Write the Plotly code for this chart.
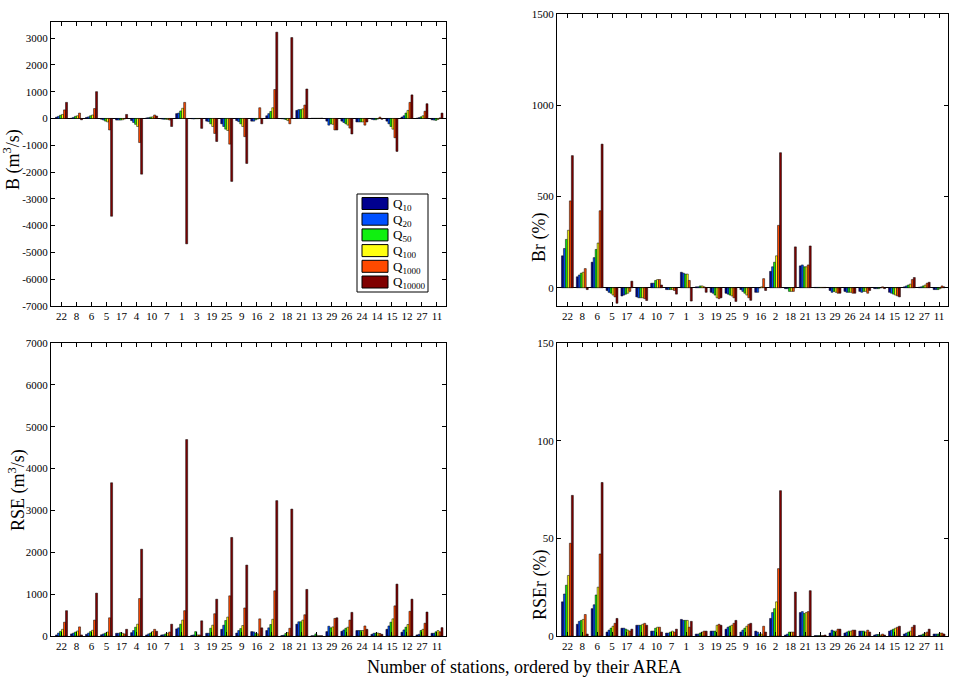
import plotly.graph_objects as go

stations = ["22", "8", "6", "5", "17", "4", "10", "7", "1", "3", "19", "25", "9",
            "16", "2", "18", "21", "13", "29", "26", "24", "14", "15", "12", "27", "11"]
series_names = ["Q<sub>10</sub>", "Q<sub>20</sub>", "Q<sub>50</sub>",
                "Q<sub>100</sub>", "Q<sub>1000</sub>", "Q<sub>10000</sub>"]
colors = ["#00008F", "#0050FF", "#10F010", "#FFFF10", "#FF4A00", "#800000"]

# B (m3/s)
B_Q10 = [50, 10, 40, -30, -60, -80, 20, -20, 180, -10, -100, -200, -80, -100, 100, -10, 300, 5, -100, -100, -130, -30, -100, 50, 10, -50]
B_Q20 = [80, 40, 60, -60, -60, -150, 30, -30, 200, -20, -120, -300, -120, -100, 180, -20, 330, 5, -250, -150, -130, -50, -200, 100, 30, -60]
B_Q50 = [120, 80, 100, -100, -60, -220, 50, -30, 280, -10, -200, -400, -200, -50, 260, -40, 330, 5, -200, -200, -130, -50, -300, 200, 60, -70]
B_Q100 = [150, 100, 130, -130, -50, -300, 60, -40, 380, -10, -300, -450, -300, -20, 400, -80, 360, 5, -220, -250, -130, -20, -400, 300, 100, -40]
B_Q1000 = [320, 200, 370, -430, -20, -900, 130, -60, 600, -5, -560, -960, -680, 400, 1080, -200, 500, 5, -430, -360, -250, 50, -720, 600, 270, 20]
B_Q10000 = [600, -50, 1000, -3650, 150, -2080, 90, -300, -4680, -370, -860, -2350, -1680, -200, 3220, 3020, 1100, 10, -430, -580, -130, -30, -1230, 880, 550, 200]

# Br (%)
Br_Q10 = [175, 60, 140, -15, -45, -50, 25, -10, 85, 5, -25, -30, -10, -25, 90, -5, 120, 2, -15, -20, -20, -5, -25, 5, 3, -10]
Br_Q20 = [215, 70, 165, -25, -40, -55, 25, -10, 80, 5, -30, -35, -20, -25, 115, -5, 125, 2, -25, -25, -25, -5, -30, 10, 5, -10]
Br_Q50 = [265, 80, 210, -30, -35, -55, 40, -10, 75, 10, -40, -40, -30, 0, 140, -20, 115, 2, -20, -25, -20, -5, -35, 15, 10, -10]
Br_Q100 = [315, 85, 245, -40, -30, -55, 45, -10, 75, 10, -55, -45, -40, 5, 175, -20, 115, 2, -25, -25, -20, 0, -40, 20, 15, -5]
Br_Q1000 = [476, 105, 422, -50, -20, -60, 45, -15, 40, 5, -60, -55, -55, 50, 342, -20, 125, 2, -30, -30, -30, 5, -45, 45, 25, 10]
Br_Q10000 = [724, -10, 787, -85, 36, -70, 15, -35, -73, -25, -55, -75, -69, -15, 740, 224, 229, 2, -30, -30, -15, -5, -50, 56, 30, 5]

# RSE (m3/s)
RSE_Q10 = [25, 50, 40, 30, 65, 80, 25, 25, 170, 15, 65, 160, 70, 105, 130, 10, 282, 5, 105, 113, 130, 40, 160, 90, 25, 65]
RSE_Q20 = [70, 70, 70, 50, 65, 130, 50, 30, 195, 25, 65, 258, 130, 97, 195, 20, 340, 5, 234, 145, 130, 65, 240, 145, 40, 65]
RSE_Q50 = [110, 95, 105, 70, 80, 210, 70, 50, 282, 105, 185, 370, 177, 65, 275, 60, 340, 50, 195, 185, 130, 70, 330, 210, 130, 100]
RSE_Q100 = [160, 120, 137, 95, 65, 282, 105, 65, 380, 25, 258, 452, 250, 50, 400, 80, 380, 5, 218, 210, 130, 70, 410, 275, 160, 130]
RSE_Q1000 = [330, 218, 380, 435, 50, 895, 160, 95, 605, 25, 532, 960, 670, 410, 1080, 185, 508, 5, 420, 380, 240, 60, 720, 590, 305, 100]
RSE_Q10000 = [605, 25, 1024, 3661, 160, 2073, 113, 282, 4693, 363, 879, 2355, 1694, 195, 3234, 3032, 1113, 5, 435, 565, 160, 40, 1240, 880, 573, 200]

# RSEr (%)
RSEr_Q10 = [17.5, 6, 14, 2, 4, 5.5, 2.5, 1.5, 8.5, 1, 2.5, 3.5, 2, 2.5, 9, 0.5, 12, 0.2, 1.5, 1.5, 2.5, 0.5, 2.5, 1, 0.3, 1]
RSEr_Q20 = [21.5, 7.5, 16, 3, 4, 5.5, 2.5, 1.5, 8, 1, 2.5, 4.5, 3, 2, 12, 1, 12.5, 0.2, 3, 2, 2.5, 0.8, 3, 1.5, 0.5, 1]
RSEr_Q50 = [26, 8, 21, 4, 3.5, 5.5, 4, 2, 8, 1.5, 2.5, 5, 4, 1, 14, 2, 11.5, 0.2, 2.5, 2.5, 2.5, 0.8, 3.5, 2, 1, 1]
RSEr_Q100 = [31, 8.5, 25, 5, 3, 6, 4.5, 2.5, 8, 2, 5.5, 5.5, 5, 1, 17.5, 2, 12, 0.2, 2.5, 2.5, 2, 0.5, 4, 2.5, 1.5, 1.5]
RSEr_Q1000 = [47.5, 11, 42, 6.5, 2.5, 6.5, 4.5, 2, 4.5, 2.5, 6, 6.5, 6, 5, 34.5, 2, 12.5, 0.2, 3.5, 3, 3, 1, 4.5, 4.5, 2, 1.5]
RSEr_Q10000 = [72, 1, 78.6, 9, 3.5, 5.5, 2, 3.5, 7.5, 2.5, 5.5, 8, 6.5, 2, 74.4, 22.5, 23.2, 0.5, 3.5, 3, 2, 0.5, 5, 5.5, 3.5, 1]

B_ticks = list(range(-7000, 3001, 1000))
Br_ticks = [0, 500, 1000, 1500]
RSE_ticks = list(range(0, 7001, 1000))
RSEr_ticks = [0, 50, 100, 150]

panels = [
    ("x", "y", [B_Q10, B_Q20, B_Q50, B_Q100, B_Q1000, B_Q10000]),
    ("x2", "y2", [Br_Q10, Br_Q20, Br_Q50, Br_Q100, Br_Q1000, Br_Q10000]),
    ("x3", "y3", [RSE_Q10, RSE_Q20, RSE_Q50, RSE_Q100, RSE_Q1000, RSE_Q10000]),
    ("x4", "y4", [RSEr_Q10, RSEr_Q20, RSEr_Q50, RSEr_Q100, RSEr_Q1000, RSEr_Q10000]),
]

W, H = 954, 678
FONT = "Liberation Serif"

fig = go.Figure()
for pi, (xa, ya, data) in enumerate(panels):
    for si, vals in enumerate(data):
        fig.add_trace(go.Bar(
            x=stations, y=vals, name=series_names[si],
            marker=dict(color=colors[si], line=dict(color="black", width=0.5)),
            xaxis=xa, yaxis=ya, legendgroup=str(si), showlegend=False,
            offsetgroup=str(si),
        ))


def px_x(p):
    return p / W


def px_y(p):
    return 1 - p / H


def xaxis_cfg(dom):
    return dict(domain=dom, type="category", categoryorder="array", categoryarray=stations,
                range=[-0.7, 25.6], showline=True, linecolor="black", linewidth=1,
                mirror="ticks", ticks="inside", ticklen=4, tickcolor="black",
                showgrid=False, zeroline=False, automargin=False,
                tickfont=dict(family=FONT, size=11, color="black"))


def yaxis_cfg(dom, rng, ticks, anchor, zl):
    return dict(domain=dom, range=rng, tickvals=ticks,
                ticktext=[str(t) for t in ticks],
                showline=True, linecolor="black", linewidth=1, mirror="ticks",
                ticks="inside", ticklen=4, tickcolor="black", showgrid=False,
                zeroline=zl, zerolinecolor="black", zerolinewidth=1,
                automargin=False, anchor=anchor,
                tickfont=dict(family=FONT, size=11, color="black"))


xl = [px_x(51), px_x(446)]
xr = [px_x(557), px_x(948)]
ytl = [px_y(306), px_y(22)]
ytr = [px_y(306), px_y(14)]
yb = [px_y(636), px_y(343)]

fig.update_layout(
    width=W, height=H,
    margin=dict(l=0, r=0, t=0, b=0),
    paper_bgcolor="white", plot_bgcolor="white",
    barmode="group", bargap=0.2, bargroupgap=0,
    font=dict(family=FONT, color="black"),
    xaxis=dict(xaxis_cfg(xl), anchor="y"),
    yaxis=yaxis_cfg(ytl, [-7000, 3600], B_ticks, "x", True),
    xaxis2=dict(xaxis_cfg(xr), anchor="y2"),
    yaxis2=yaxis_cfg(ytr, [-100, 1500], Br_ticks, "x2", True),
    xaxis3=dict(xaxis_cfg(xl), anchor="y3"),
    yaxis3=yaxis_cfg(yb, [0, 7000], RSE_ticks, "x3", False),
    xaxis4=dict(xaxis_cfg(xr), anchor="y4"),
    yaxis4=yaxis_cfg(yb, [0, 150], RSEr_ticks, "x4", False),
    showlegend=False,
)

# Legend box (drawn in the top-left panel corner area)
shapes = [dict(type="rect", xref="paper", yref="paper",
               x0=px_x(357), x1=px_x(428), y0=px_y(292), y1=px_y(194),
               line=dict(color="black", width=1), fillcolor="white")]
entry_y = [203.5, 219.2, 234.9, 250.6, 266.3, 282.0]
for si in range(6):
    cy = entry_y[si]
    shapes.append(dict(type="rect", xref="paper", yref="paper",
                       x0=px_x(362), x1=px_x(388), y0=px_y(cy + 6), y1=px_y(cy - 6),
                       line=dict(color="black", width=1), fillcolor=colors[si]))
    fig.add_annotation(text=series_names[si], x=px_x(391), y=px_y(cy + 1),
                       xref="paper", yref="paper", showarrow=False,
                       xanchor="left", yanchor="middle",
                       font=dict(family=FONT, size=13, color="black"))
fig.update_layout(shapes=shapes)

title_font = dict(family=FONT, size=18, color="black")
annots = [
    ("B (m<sup>3</sup>/s)", 12, 160, -90),
    ("Br (%)", 540, 238, -90),
    ("RSE (m<sup>3</sup>/s)", 17, 490, -90),
    ("RSEr (%)", 540, 585, -90),
    ("Number of stations, ordered by their AREA", 524, 667, 0),
]
for txt, xp, yp, ang in annots:
    fig.add_annotation(text=txt, x=px_x(xp), y=px_y(yp), xref="paper", yref="paper",
                       showarrow=False, textangle=ang, font=title_font,
                       xanchor="center", yanchor="middle")

fig.write_html("out.html")
